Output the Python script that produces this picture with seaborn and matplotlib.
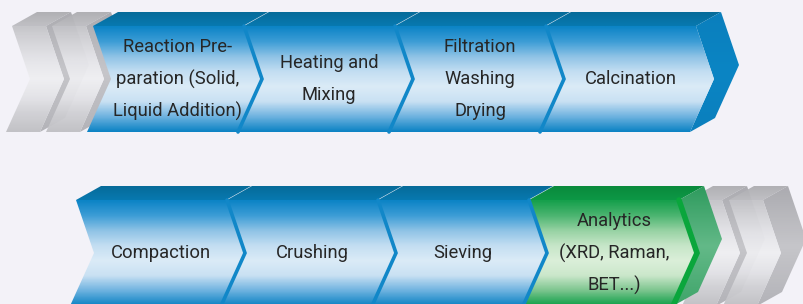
import numpy as np
import matplotlib.pyplot as plt
import seaborn as sns
from matplotlib.patches import Polygon

# Process steps, one list per row of the flow
top_steps = [
    "Reaction Pre-\nparation (Solid,\nLiquid Addition)",
    "Heating and\nMixing",
    "Filtration\nWashing\nDrying",
    "Calcination",
]
bottom_steps = ["Compaction", "Crushing", "Sieving", "Analytics\n(XRD, Raman,\nBET...)"]
top_kind = ["process", "process", "process", "process"]
bottom_kind = ["process", "process", "process", "analytics"]

# Styles
BG = "#f3f2f8"
FRONT = {
    "process": ["#0c84c6", "#3d9dd6", "#8fc3e6", "#c3def2", "#dbebf7", "#c9e1f3", "#6fb3e0", "#0d83c4"],
    "analytics": ["#16a04c", "#4cb571", "#97d2a3", "#c6e6c8", "#dbefd9", "#cbe7cb", "#7cc58e", "#11a04a"],
    "grey": ["#c4c4c8", "#d6d6da", "#e6e6ea", "#efeff2", "#e4e4e8", "#cfcfd3", "#c0c0c4"],
}
BEVEL = {
    "process": ["#066b99", "#0879b0"],
    "analytics": ["#0a8a3c", "#0d9846"],
    "grey": ["#adadb1", "#bdbdc1"],
}
SIDE = {
    "process": ["#0a7fbd", "#0b85c4", "#0a7fbd"],
    "analytics": ["#2f9b5e", "#63b988", "#3fa56a"],
    "grey": ["#a8a8ad", "#c4c4c8", "#b0b0b5"],
}

sns.set_theme(style="white")
plt.rcParams["font.family"] = ["Liberation Sans Narrow", "Roboto", "DejaVu Sans"]

fig = plt.figure(figsize=(8.04, 3.04), dpi=100)
fig.patch.set_facecolor(BG)
ax = fig.add_axes([0, 0, 1, 1])
ax.set_facecolor(BG)

H = 106      # front face height
TIP = 18     # depth of the arrow tip / notch
SLANT = -6   # bottom edge shift
DX, DY = 25, 14  # extrusion towards the back


def chevron(x0, y0, w):
    return np.array([
        (x0, y0), (x0 + w, y0), (x0 + w + TIP, y0 + H / 2),
        (x0 + w + SLANT, y0 + H), (x0 + SLANT, y0 + H), (x0 + TIP, y0 + H / 2),
    ])


def gradient_fill(pts, colors, z, alpha=1.0):
    poly = Polygon(pts, closed=True, facecolor="none", edgecolor="none", zorder=z)
    ax.add_patch(poly)
    grad = np.array(sns.blend_palette(colors, 96))[:, None, :]
    im = ax.imshow(grad, extent=(pts[:, 0].min(), pts[:, 0].max(), pts[:, 1].max(), pts[:, 1].min()),
                   origin="upper", aspect="auto", interpolation="bilinear", zorder=z, alpha=alpha)
    im.set_clip_path(poly)


def draw_block(x0, y0, w, kind, z, side=False, alpha=1.0):
    p = chevron(x0, y0, w)
    bevel = np.array([p[0], p[1], p[1] + (DX, -DY), p[0] + (DX, -DY)])
    gradient_fill(bevel, BEVEL[kind], z, alpha)
    if side:
        face = np.array([p[1], p[1] + (DX, -DY), p[2] + (DX, -DY), p[3] + (DX, -DY), p[3], p[2]])
        gradient_fill(face, SIDE[kind], z, alpha)
    gradient_fill(p, FRONT[kind], z + 0.5, alpha)
    return p


def draw_row(steps, kinds, x_start, y0, step=151, w=150):
    for i, (label, kind) in enumerate(zip(steps, kinds)):
        x0 = x_start + i * step
        last = i == len(steps) - 1
        p = draw_block(x0, y0, w, kind, z=10 + 2 * i, side=last)
        if i > 0:
            ax.plot(p[[0, 5, 4], 0], p[[0, 5, 4], 1], color="#1187c8", lw=2.6,
                    solid_joinstyle="miter", zorder=11 + 2 * i)
        if kind == "analytics":
            ax.plot(p[[1, 2, 3], 0], p[[1, 2, 3], 1], color="#0aa63c", lw=4,
                    solid_joinstyle="miter", zorder=11 + 2 * i)
        lines = label.split("\n")
        ymid = y0 + H / 2
        for k, line in enumerate(lines):
            ax.text(x0 + 85, ymid + (k - (len(lines) - 1) / 2) * 32, line,
                    ha="center", va="center", fontsize=13.2, color="#262626", zorder=30)


# faded grey arrows leading in and out
for gx in [12, 52]:
    draw_block(gx, 26, 34, "grey", z=2, side=True, alpha=0.95)
for gx in [688, 729]:
    draw_block(gx, 200, 34, "grey", z=2, side=True, alpha=0.95)

draw_row(top_steps, top_kind, 93, 26)
draw_row(bottom_steps, bottom_kind, 76, 200)

ax.set_xlim(0, 804)
ax.set_ylim(304, 0)
ax.axis("off")
fig.savefig("out.png", dpi=100, facecolor=BG)
